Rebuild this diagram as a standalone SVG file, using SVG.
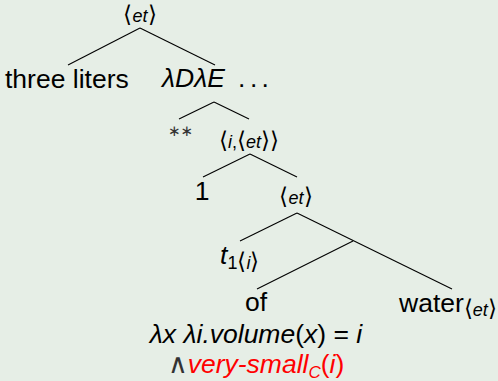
<svg xmlns="http://www.w3.org/2000/svg" width="498" height="381" viewBox="0 0 498 381">
<style>
.t{font-family:"Liberation Sans",Arial,"DejaVu Sans",sans-serif;font-size:26.5px;fill:#000}
.s{font-size:18px}
.ss{font-size:17px}
.i{font-style:italic}
.b{font-family:"DejaVu Sans",sans-serif;font-style:normal;font-size:23px;font-weight:200}
.w{font-family:"DejaVu Sans ExtraLight","DejaVu Sans",sans-serif;font-weight:200;fill:#333}
.r{fill:#ff0000}
.e line{stroke:#000;stroke-width:1.1;fill:none}
</style>
<rect width="498" height="381" fill="#e6eee6"/>
<g id="connectors" class="e">
<line x1="140" y1="28" x2="68" y2="65"/>
<line x1="140" y1="28" x2="215" y2="65"/>
<line x1="214" y1="102" x2="179" y2="119"/>
<line x1="214" y1="102" x2="249" y2="119"/>
<line x1="250" y1="154" x2="203" y2="177"/>
<line x1="250" y1="154" x2="297" y2="177"/>
<line x1="297" y1="213" x2="240" y2="241"/>
<line x1="297" y1="213" x2="452" y2="289"/>
<line x1="353" y1="241" x2="257" y2="289"/>
</g>
<g id="n0"><text class="t s" x="140" y="22" text-anchor="middle"><tspan class="b">⟨</tspan><tspan class="i">et</tspan><tspan class="b">⟩</tspan></text></g>
<g id="n1"><text class="t" x="5" y="88">three liters</text></g>
<g id="n2"><text class="t i" x="162" y="87">λDλE</text><text class="t" x="238 250 261.5" y="87">...</text></g>
<g id="n3"><text class="t" x="168" y="136" style="font-size:15px;fill:#333">∗∗</text></g>
<g id="n4"><text class="t s" x="249" y="148" text-anchor="middle"><tspan class="b">⟨</tspan><tspan class="i">i</tspan>,<tspan class="b">⟨</tspan><tspan class="i">et</tspan><tspan class="b">⟩⟩</tspan></text></g>
<g id="n5"><text class="t" x="202" y="200" text-anchor="middle">1</text></g>
<g id="n6"><text class="t s" x="296" y="204" text-anchor="middle"><tspan class="b">⟨</tspan><tspan class="i">et</tspan><tspan class="b">⟩</tspan></text></g>
<g id="n7"><text class="t i" x="220" y="264">t<tspan class="s" style="font-style:normal" dy="5">1<tspan class="b">⟨</tspan><tspan class="i">i</tspan><tspan class="b">⟩</tspan></tspan></text></g>
<g id="n8">
<text class="t" x="256" y="311" text-anchor="middle">of</text>
<text class="t" x="256" y="343" text-anchor="middle"><tspan class="i">λx λi.volume</tspan>(<tspan class="i">x</tspan>) = <tspan class="i">i</tspan></text>
<text class="t" x="256" y="373" text-anchor="middle"><tspan class="w">∧</tspan><tspan class="r i">very-small<tspan class="ss" dy="5">C</tspan></tspan><tspan class="r" dy="-5">(<tspan class="i">i</tspan>)</tspan></text>
</g>
<g id="n9"><text class="t" x="399" y="312">water<tspan class="s" dy="4"><tspan class="b">⟨</tspan><tspan class="i">et</tspan><tspan class="b">⟩</tspan></tspan></text></g>
</svg>
